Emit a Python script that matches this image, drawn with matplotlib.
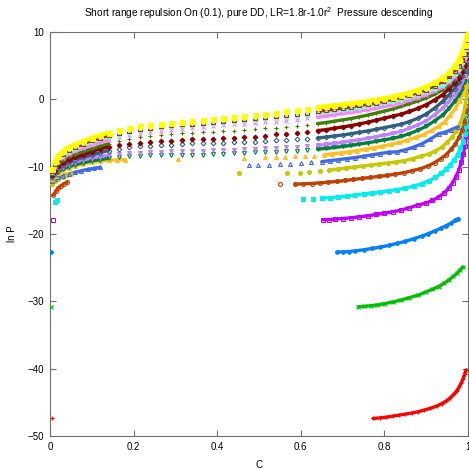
import numpy as np
import matplotlib
matplotlib.use("Agg")
import matplotlib.pyplot as plt

plt.rcParams['font.family'] = ['Liberation Sans', 'DejaVu Sans']
plt.rcParams['mathtext.fontset'] = 'custom'
plt.rcParams['mathtext.rm'] = 'Liberation Sans'
plt.rcParams['mathtext.it'] = 'Liberation Sans'

title = r"Short range repulsion On (0.1), pure DD, LR=1.8r-1.0r$^2$  Pressure descending"
x_label = "C"
y_label = "ln P"
x_ticks = [0, 0.2, 0.4, 0.6, 0.8, 1]
x_tick_labels = ["0", "0.2", "0.4", "0.6", "0.8", "1"]
y_ticks = [-50, -40, -30, -20, -10, 0, 10]

# ---- data (C, ln P) ----
red_c = [0.004, 0.773, 0.79, 0.805, 0.82, 0.835, 0.85, 0.865, 0.88, 0.895, 0.91, 0.925, 0.937, 0.948, 0.958, 0.966, 0.973, 0.979, 0.984, 0.988, 0.992, 0.995]
red_p = [-47.3, -47.4, -47.3, -47.2, -47.05, -46.9, -46.75, -46.6, -46.4, -46.15, -45.9, -45.55, -45.2, -44.8, -44.3, -43.8, -43.3, -42.7, -42.1, -41.5, -40.8, -40.2]

green_c = [0.002, 0.738, 0.752, 0.767, 0.782, 0.80, 0.82, 0.84, 0.86, 0.88, 0.90, 0.915, 0.93, 0.943, 0.955, 0.965, 0.974, 0.982, 0.988]
green_p = [-30.9, -30.8, -30.75, -30.65, -30.55, -30.35, -30.1, -29.8, -29.45, -29.1, -28.6, -28.2, -27.8, -27.3, -26.8, -26.3, -25.8, -25.3, -24.9]

blue_c = [0.003, 0.686, 0.70, 0.715, 0.73, 0.75, 0.77, 0.79, 0.81, 0.83, 0.85, 0.87, 0.89, 0.905, 0.92, 0.935, 0.948, 0.96, 0.97, 0.977]
blue_p = [-22.7, -22.7, -22.65, -22.6, -22.5, -22.35, -22.15, -21.95, -21.7, -21.4, -21.1, -20.7, -20.3, -19.95, -19.55, -19.15, -18.75, -18.35, -17.95, -17.7]

magenta_c = [0.006, 0.654, 0.668, 0.682, 0.70, 0.72, 0.74, 0.76, 0.78, 0.80, 0.82, 0.84, 0.86, 0.88, 0.90, 0.915, 0.93, 0.943, 0.954, 0.963, 0.971, 0.978, 0.984, 0.989, 0.993, 0.996, 0.998]
magenta_p = [-17.9, -17.9, -17.85, -17.8, -17.7, -17.6, -17.45, -17.3, -17.1, -16.9, -16.7, -16.45, -16.1, -15.7, -15.4, -15.0, -14.5, -13.9, -13.2, -12.4, -11.5, -10.5, -9.3, -8.1, -6.9, -5.5, -4.0]

cyan_c = [0.012, 0.017, 0.606, 0.628, 0.65, 0.67, 0.69, 0.71, 0.73, 0.75, 0.77, 0.79, 0.81, 0.83, 0.85, 0.87, 0.89, 0.907, 0.922, 0.936, 0.948, 0.958, 0.967, 0.975, 0.982, 0.988, 0.992, 0.995, 0.998]
cyan_p = [-15.2, -14.9, -14.8, -14.75, -14.7, -14.6, -14.5, -14.35, -14.2, -14.05, -13.9, -13.75, -13.6, -13.4, -13.2, -12.9, -12.5, -12.1, -11.6, -11.0, -10.4, -9.7, -9.0, -8.2, -7.3, -6.3, -5.2, -4.0, -2.5]

sienna_c = [0.008, 0.014, 0.02, 0.027, 0.034, 0.041, 0.55, 0.586, 0.606, 0.626, 0.646, 0.666, 0.686, 0.706, 0.726, 0.746, 0.766, 0.786, 0.806, 0.826, 0.846, 0.866, 0.886, 0.904, 0.92, 0.935, 0.948, 0.96, 0.97, 0.979, 0.986, 0.991, 0.995, 0.998]
sienna_p = [-14.2, -13.6, -13.1, -12.8, -12.5, -12.3, -12.6, -12.6, -12.55, -12.5, -12.4, -12.3, -12.2, -12.05, -11.9, -11.75, -11.6, -11.45, -11.3, -11.1, -10.9, -10.6, -10.3, -9.9, -9.4, -8.8, -8.2, -7.4, -6.6, -5.6, -4.6, -3.5, -2.3, -1.0]

olive_c = [0.005, 0.012, 0.02, 0.03, 0.04, 0.05, 0.452, 0.566, 0.598, 0.62, 0.645, 0.668, 0.688, 0.708, 0.728, 0.748, 0.768, 0.788, 0.808, 0.828, 0.848, 0.868, 0.888, 0.906, 0.922, 0.937, 0.95, 0.962, 0.972, 0.981, 0.988, 0.993, 0.997, 0.999]
olive_p = [-12.5, -12.1, -11.8, -11.5, -11.3, -11.1, -11.0, -11.0, -10.9, -10.75, -10.6, -10.5, -10.35, -10.2, -10.05, -9.9, -9.75, -9.6, -9.45, -9.3, -9.1, -8.8, -8.45, -8.1, -7.7, -7.1, -6.4, -5.6, -4.7, -3.6, -2.4, -1.0, 0.6, 2.0]

royal_c = [0.005, 0.012, 0.02, 0.03, 0.045, 0.06, 0.075, 0.09, 0.105, 0.12, 0.475, 0.498, 0.525, 0.55, 0.575, 0.60, 0.625, 0.65, 0.67, 0.69, 0.71, 0.73, 0.75, 0.77, 0.79, 0.81, 0.83, 0.85, 0.87, 0.89, 0.91, 0.93, 0.945, 0.96, 0.975]
royal_p = [-12.1, -11.8, -11.6, -11.4, -11.1, -10.85, -10.6, -10.4, -10.25, -10.1, -9.75, -9.75, -9.7, -9.65, -9.6, -9.45, -9.35, -9.25, -9.1, -8.95, -8.8, -8.65, -8.45, -8.25, -8.05, -7.85, -7.8, -7.5, -7.1, -6.6, -5.9, -5.1, -4.9, -4.5, -4.1]

gold_c = [0.005, 0.012, 0.02, 0.03, 0.045, 0.06, 0.08, 0.10, 0.12, 0.14, 0.16, 0.18, 0.307, 0.465, 0.514, 0.540, 0.563, 0.586, 0.609, 0.632, 0.655, 0.675, 0.695, 0.715, 0.735, 0.755, 0.775, 0.795, 0.815, 0.835, 0.855, 0.875, 0.895, 0.913, 0.93, 0.945, 0.958, 0.97, 0.98, 0.988, 0.994, 0.998]
gold_p = [-11.9, -11.45, -11.0, -10.6, -10.2, -9.9, -9.6, -9.35, -9.15, -9.05, -9.0, -8.95, -8.9, -8.75, -8.6, -8.55, -8.5, -8.45, -8.4, -8.35, -8.25, -8.1, -7.95, -7.8, -7.6, -7.4, -7.2, -6.95, -6.7, -6.4, -6.05, -5.65, -5.2, -4.6, -4.0, -3.3, -2.3, -1.3, -0.2, 0.8, 2.0, 3.5]

# shared C grid of the upper nine isotherms
c_top = [0.005, 0.012, 0.02, 0.03, 0.045, 0.06, 0.08, 0.10, 0.12, 0.14, 0.165, 0.19, 0.215, 0.24, 0.265, 0.29, 0.315, 0.34, 0.365, 0.39, 0.415, 0.44, 0.465, 0.49, 0.515, 0.54, 0.565, 0.59, 0.615, 0.64, 0.66, 0.68, 0.70, 0.72, 0.74, 0.76, 0.78, 0.80, 0.82, 0.84, 0.86, 0.88, 0.90, 0.92, 0.94, 0.955, 0.968, 0.978, 0.986, 0.992, 0.996, 0.999]

darkgreen_p = [-11.65, -11.25, -10.75, -10.35, -10.0, -9.7, -9.4, -9.15, -8.95, -8.75, -8.55, -8.45, -8.35, -8.25, -8.25, -8.25, -8.25, -8.25, -8.2, -8.15, -8.05, -8.0, -7.9, -7.85, -7.8, -7.75, -7.7, -7.6, -7.5, -7.4, -7.3, -7.15, -7.0, -6.85, -6.65, -6.45, -6.25, -6.0, -5.8, -5.5, -5.1, -4.6, -4.0, -3.2, -2.3, -1.3, -0.3, 0.6, 1.5, 2.5, 3.6, 4.8]
purple_p = [-11.5, -11.05, -10.5, -10.05, -9.65, -9.35, -9.0, -8.7, -8.5, -8.3, -8.1, -8.0, -7.9, -7.8, -7.75, -7.7, -7.65, -7.6, -7.6, -7.55, -7.5, -7.5, -7.4, -7.35, -7.3, -7.2, -7.15, -7.1, -7.0, -6.85, -6.7, -6.55, -6.4, -6.2, -6.0, -5.8, -5.55, -5.3, -5.05, -4.75, -4.3, -3.8, -3.2, -2.3, -1.3, -0.3, 0.7, 1.6, 2.5, 3.5, 4.6, 5.8]
steel_p = [-11.35, -10.85, -10.25, -9.75, -9.35, -9.0, -8.6, -8.25, -7.9, -7.6, -7.35, -7.15, -7.0, -6.9, -6.8, -6.75, -6.6, -6.55, -6.5, -6.5, -6.45, -6.4, -6.3, -6.3, -6.2, -6.1, -6.0, -5.95, -5.9, -5.75, -5.6, -5.45, -5.3, -5.1, -4.9, -4.7, -4.45, -4.2, -3.95, -3.7, -3.3, -2.8, -2.2, -1.3, -0.3, 0.7, 1.6, 2.5, 3.4, 4.4, 5.4, 6.5]
darkred_p = [-11.2, -10.6, -9.95, -9.45, -9.0, -8.6, -8.2, -7.75, -7.35, -7.05, -6.8, -6.6, -6.45, -6.35, -6.25, -6.15, -6.05, -5.95, -5.9, -5.85, -5.8, -5.75, -5.65, -5.55, -5.4, -5.2, -5.1, -4.95, -4.85, -4.65, -4.5, -4.3, -4.1, -3.9, -3.65, -3.4, -3.1, -2.8, -2.5, -2.2, -1.8, -1.35, -0.8, -0.1, 0.7, 1.6, 2.4, 3.2, 4.1, 5.0, 6.0, 7.0]
olivegreen_p = [-11.05, -10.35, -9.6, -9.1, -8.6, -8.2, -7.75, -7.35, -6.95, -6.6, -6.25, -5.95, -5.65, -5.4, -5.25, -5.15, -5.05, -4.95, -4.85, -4.8, -4.7, -4.65, -4.5, -4.4, -4.3, -4.2, -4.1, -3.95, -3.8, -3.6, -3.45, -3.25, -3.05, -2.85, -2.6, -2.35, -2.05, -1.75, -1.45, -1.05, -0.65, -0.25, 0.2, 0.75, 1.4, 2.1, 2.9, 3.7, 4.6, 5.5, 6.5, 7.5]
pink_p = [-10.9, -10.1, -9.3, -8.7, -8.15, -7.7, -7.2, -6.75, -6.35, -6.0, -5.65, -5.35, -5.1, -4.9, -4.75, -4.6, -4.45, -4.3, -4.15, -4.0, -3.85, -3.7, -3.6, -3.5, -3.4, -3.3, -3.15, -3.0, -2.8, -2.6, -2.45, -2.3, -2.1, -1.95, -1.75, -1.55, -1.3, -1.05, -0.8, -0.5, -0.15, 0.25, 0.7, 1.2, 1.85, 2.55, 3.3, 4.1, 5.0, 5.9, 6.9, 7.9]
aqua_p = [-10.75, -9.85, -9.05, -8.4, -7.8, -7.35, -6.85, -6.35, -5.95, -5.6, -5.25, -4.95, -4.65, -4.4, -4.25, -4.1, -3.95, -3.85, -3.7, -3.6, -3.45, -3.3, -3.15, -3.05, -2.9, -2.75, -2.6, -2.45, -2.3, -2.1, -1.95, -1.8, -1.6, -1.45, -1.25, -1.05, -0.85, -0.6, -0.35, -0.05, 0.3, 0.65, 1.05, 1.55, 2.2, 2.9, 3.7, 4.5, 5.4, 6.3, 7.3, 8.3]
brown_p = [-10.6, -9.6, -8.8, -8.1, -7.5, -7.1, -6.6, -6.1, -5.7, -5.35, -5.0, -4.7, -4.4, -4.2, -4.0, -3.85, -3.7, -3.6, -3.45, -3.35, -3.2, -3.05, -2.9, -2.8, -2.65, -2.5, -2.35, -2.2, -2.0, -1.8, -1.6, -1.45, -1.3, -1.1, -0.9, -0.7, -0.5, -0.25, 0.0, 0.35, 0.65, 1.0, 1.45, 2.0, 2.7, 3.4, 4.2, 5.0, 5.9, 6.8, 7.8, 8.8]
yellow_p = [-10.4, -9.2, -8.4, -7.7, -7.1, -6.7, -6.2, -5.7, -5.3, -4.95, -4.6, -4.3, -4.0, -3.8, -3.6, -3.45, -3.3, -3.2, -3.05, -2.95, -2.8, -2.67, -2.5, -2.35, -2.2, -2.0, -1.8, -1.6, -1.4, -1.2, -1.05, -0.9, -0.75, -0.6, -0.45, -0.25, -0.05, 0.15, 0.4, 0.7, 1.0, 1.4, 1.9, 2.5, 3.2, 4.0, 4.9, 5.9, 7.0, 8.1, 9.1, 10.0]

# ---- styling (gnuplot default line types / point types) ----
series = [
    (red_c, red_p, '#ff0000', '+', True),
    (green_c, green_p, '#00c000', 'x', True),
    (blue_c, blue_p, '#0080ff', (8, 2, 0), True),
    (magenta_c, magenta_p, '#c000ff', 's', False),
    (cyan_c, cyan_p, '#00eeee', 's', True),
    (sienna_c, sienna_p, '#c04000', 'o', False),
    (olive_c, olive_p, '#c8c800', 'o', True),
    (royal_c, royal_p, '#4169e1', '^', False),
    (gold_c, gold_p, '#ffc020', '^', True),
    (c_top, darkgreen_p, '#008040', 'v', False),
    (c_top, purple_p, '#c080ff', 'v', True),
    (c_top, steel_p, '#306080', 'D', False),
    (c_top, darkred_p, '#8b0000', 'D', True),
    (c_top, olivegreen_p, '#408000', '+', True),
    (c_top, pink_p, '#ff80ff', 'x', True),
    (c_top, aqua_p, '#7fffd4', (8, 2, 0), True),
    (c_top, brown_p, '#a52a2a', 's', False),
    (c_top, yellow_p, '#ffff00', 's', True),
]

fig = plt.figure(figsize=(4.69, 4.69), dpi=100)
ax = fig.add_axes([50 / 469, 1 - 436 / 469, 418 / 469, 404 / 469])

for c, p, col, mk, filled in series:
    c = np.asarray(c, float)
    p = np.asarray(p, float)
    # dense stretches of the isotherm: join neighbouring points into a band
    lc, lp = [c[0]], [p[0]]
    for i in range(1, len(c)):
        if c[i] - c[i - 1] > 0.021:
            lc.append(np.nan)
            lp.append(np.nan)
        lc.append(c[i])
        lp.append(p[i])
    lw = 3.2 if col == '#ffff00' else 2.4
    ax.plot(lc, lp, '-', color=col, lw=lw, solid_capstyle='round', zorder=2)
    size = 2.8 if mk in ('s', 'o', '^', 'v') else 3.2
    if mk == 'D':
        size = 2.4
    if col == '#ffff00':
        size = 3.6
    ax.plot(c, p, linestyle='none', marker=mk, markersize=size,
            markeredgewidth=0.8, color=col,
            markerfacecolor=(col if filled else 'none'), zorder=3)

ax.set_xlim(0, 1)
ax.set_ylim(-50, 10)
ax.set_xticks(x_ticks)
ax.set_xticklabels(x_tick_labels)
ax.set_yticks(y_ticks)
ax.tick_params(direction='in', length=4, width=0.8, color='#707070',
               top=True, right=True, labelsize=7, pad=4)
for s in ax.spines.values():
    s.set_color('#707070')
    s.set_linewidth(0.8)

ax.set_title(title, fontsize=7.3, pad=11)
ax.set_xlabel(x_label, fontsize=7, labelpad=6)
ax.set_ylabel(y_label, fontsize=7, labelpad=8)

fig.savefig("out.png", dpi=100)
